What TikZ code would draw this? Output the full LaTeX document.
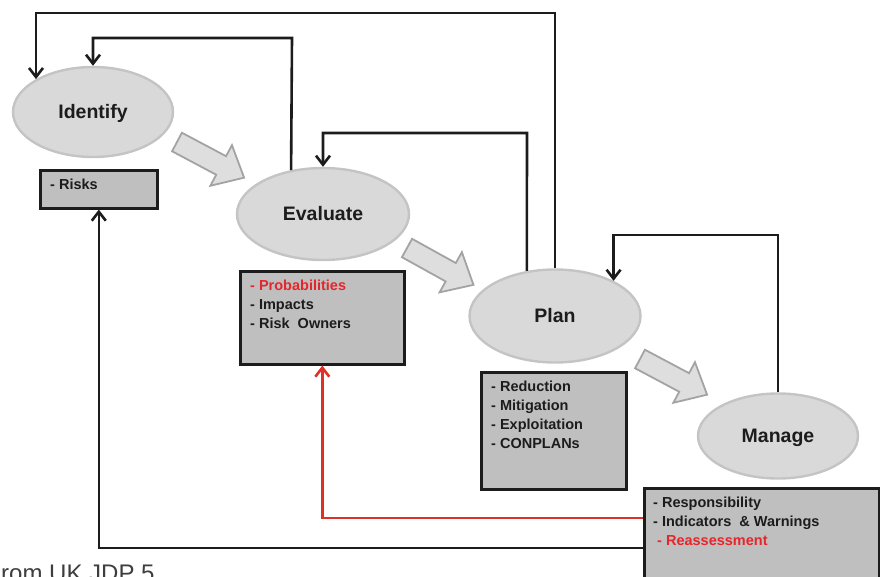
\documentclass[tikz,border=0pt]{standalone}
\usepackage{fontspec}
\setmainfont{Liberation Sans}
\usetikzlibrary{shapes.geometric,arrows.meta,calc}

\definecolor{ovalfill}{HTML}{D9D9D9}
\definecolor{ovaledge}{HTML}{C4C4C4}
\definecolor{boxfill}{HTML}{BFBFBF}
\definecolor{arrowfill}{HTML}{DEDEDE}
\definecolor{arrowedge}{HTML}{A3A3A3}
\definecolor{ink}{HTML}{1C1C1C}
\definecolor{alert}{HTML}{E5262B}
\definecolor{alertline}{HTML}{DD3129}

\tikzset{
  stage/.style={ellipse, fill=ovalfill, draw=ovaledge, line width=2.4pt,
    text=ink, font=\bfseries\fontsize{19.5}{23}\selectfont, inner sep=0pt,
    text height=13pt, text depth=0pt},
  infobox/.style={rectangle, fill=boxfill, draw=ink, line width=2.6pt,
    anchor=north west, inner sep=0pt},
  infotext/.style={anchor=north west, inner sep=0pt, align=left, text=ink,
    font=\bfseries\fontsize{14.5}{19}\selectfont},
  loop/.style={draw=ink, line width=2.6pt,
    -{Straight Barb[length=9pt,width=14pt,line width=2.6pt]}},
  redloop/.style={draw=alertline, line width=2.6pt,
    -{Straight Barb[length=9pt,width=14pt,line width=2.6pt]}},
  blockarrow/.pic={
    \draw[fill=arrowfill, draw=arrowedge, line width=1.8pt, line join=miter]
      (0,-10.5) -- (50,-10.5) -- (50,-23) -- (76,0) -- (50,23) -- (50,10.5)
      -- (0,10.5) -- cycle;
  },
}

\begin{document}
\begin{tikzpicture}[x=1pt, y=-1pt]
  \useasboundingbox (0,0) rectangle (880,577);
  \clip (0,0) rectangle (880,577);

  % process stages
  \node[stage, minimum width=160pt, minimum height=90pt] (idf) at (93,112) {Identify};
  \node[stage, minimum width=172pt, minimum height=92pt] (evl) at (323,214) {Evaluate};
  \node[stage, minimum width=171pt, minimum height=93pt] (pln) at (555,316) {Plan};
  \node[stage, minimum width=160pt, minimum height=85pt] (mng) at (778,436) {Manage};

  % output boxes under each stage
  \node[infobox, minimum width=117pt, minimum height=38pt] (rbox) at (39,169) {};
  \node[infobox, minimum width=164pt, minimum height=93pt] (ebox) at (239,270) {};
  \node[infobox, minimum width=145pt, minimum height=117pt] (pbox) at (480,371) {};
  \node[infobox, minimum width=235pt, minimum height=110pt] (mbox) at (643,487) {};

  \node[infotext] (rtxt) at ($(rbox.north west)+(11,10)$) {- Risks};
  \node[infotext] (etxt) at ($(ebox.north west)+(11,10)$)
    {\textcolor{alert}{- Probabilities}\\- Impacts\\- Risk\ \ Owners};
  \node[infotext] (ptxt) at ($(pbox.north west)+(11,10)$)
    {- Reduction\\- Mitigation\\- Exploitation\\- CONPLANs};
  \node[infotext] (mtxt) at ($(mbox.north west)+(10,10)$)
    {- Responsibility\\- Indicators\ \ \& Warnings\\\hspace{4pt}\textcolor{alert}{- Reassessment}};

  % forward flow between stages
  \pic[rotate=-28] at (177,142) {blockarrow};
  \pic[rotate=-29] at (407,248) {blockarrow};
  \pic[rotate=-28] at (640,359) {blockarrow};

  % feedback loops
  \draw[loop] (pln.north) -- (555,13) -| (idf.150);
  \draw[loop] (evl.126) -- (292,38) -| (idf.north);
  \draw[loop] (pln.122) -- (527,133) -| (evl.north);
  \draw[loop] (mng.north) -- (778,235) -| (pln.31);
  \draw[loop] (mbox.west |- 0,548) -| (rbox.south);
  \draw[redloop] (mbox.west |- 0,518) -| (ebox.south);

  % source note
  \node[anchor=base west, inner sep=0pt, text=ink!85,
        font=\fontsize{24}{28}\selectfont] (src) at (1,581) {rom UK JDP 5};
\end{tikzpicture}
\end{document}
